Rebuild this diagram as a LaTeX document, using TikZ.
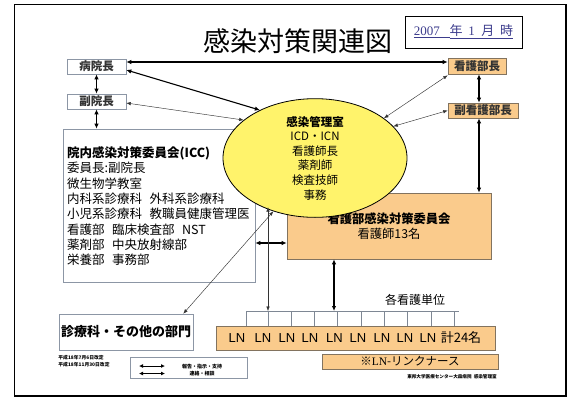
\documentclass[tikz,border=0pt]{standalone}
\usepackage{fontspec}
\setmainfont{Noto Sans CJK JP}
\newfontfamily\numfont{Liberation Serif}
\newfontfamily\lnfont{Liberation Sans}
\usetikzlibrary{arrows.meta,shapes.geometric}
\definecolor{orangefill}{RGB}{250,203,140}
\definecolor{yellowfill}{RGB}{255,243,107}
\definecolor{boxgray}{RGB}{140,150,165}
\definecolor{orangeline}{RGB}{130,115,95}
\definecolor{datecol}{RGB}{60,60,140}
\definecolor{txtgray}{RGB}{50,50,50}
\begin{document}
\begin{tikzpicture}[x=1pt,y=-1pt,
  whitebox/.style={draw=boxgray,line width=0.6pt,fill=white,inner sep=0pt},
  orbox/.style={draw=orangeline,line width=0.6pt,fill=orangefill,inner sep=0pt},
  thickarr/.style={line width=1.1pt,{Latex[length=5pt,width=4.5pt]}-{Latex[length=5pt,width=4.5pt]}},
  thinarr/.style={line width=0.45pt,draw=black!80,{Latex[length=4.5pt,width=3.5pt]}-{Latex[length=4.5pt,width=3.5pt]}},
  gridline/.style={draw=boxgray!90!black,line width=0.5pt}
]
\useasboundingbox (0,0) rectangle (585,400);
% frame
\draw[line width=0.8pt] (14,4) rectangle (566,396);
\draw[line width=1.6pt] (566,4) -- (566,396) -- (14,396);

% title
\node (title) at (298,41) {\fontsize{27}{27}\selectfont 感染対策関連図};
\node[draw=black,line width=0.8pt,minimum width=117,minimum height=32,inner sep=0pt] (date) at (463.5,32)
  {\color{datecol}\fontsize{13}{13}\selectfont\underline{\numfont 2007\ \ \ }\underline{年\ \ \numfont 1\ \ }\underline{月\ \ 時}};

% left column
\node[whitebox,minimum width=59,minimum height=15] (hosp) at (96.5,66.5) {\color{txtgray}\fontsize{11.5}{11.5}\selectfont\bfseries 病院長};
\node[whitebox,minimum width=59,minimum height=15] (vhosp) at (96.5,101.5) {\color{txtgray}\fontsize{11.5}{11.5}\selectfont\bfseries 副院長};
\node[whitebox,minimum width=192,minimum height=153] (icc) at (159,205.5) {};
\node[anchor=north west,inner sep=0pt,align=left,font=\fontsize{12.5}{15.3}\selectfont] (icctext) at (67,146.5)
  {{\bfseries 院内感染対策委員会(ICC)}\\
   委員長:副院長\\
   微生物学教室\\
   内科系診療科\hspace{0.6em}外科系診療科\\
   小児系診療科\hspace{0.6em}教職員健康管理医\\
   看護部\hspace{0.6em}臨床検査部\hspace{0.6em}NST\\
   薬剤部\hspace{0.6em}中央放射線部\\
   栄養部\hspace{0.6em}事務部};

% nursing committee (below ellipse)
\node[orbox,minimum width=204,minimum height=66,align=center,font=\fontsize{12.3}{14.5}\selectfont] (ncom) at (389,226)
  {{\bfseries 看護部感染対策委員会}\\看護師13名};

% ellipse
\node[ellipse,draw=black,line width=0.8pt,fill=yellowfill,minimum width=184,minimum height=100,inner sep=0pt,
  align=center,font=\fontsize{11.5}{14.6}\selectfont] (ell) at (315,158)
  {{\bfseries 感染管理室}\\ICD・ICN\\看護師長\\薬剤師\\検査技師\\事務};

% right column
\node[orbox,minimum width=58,minimum height=16] (nd) at (477,66) {\color{txtgray}\fontsize{11.5}{11.5}\selectfont\bfseries 看護部長};
\node[orbox,minimum width=70,minimum height=15] (vnd) at (483,110.5) {\color{txtgray}\fontsize{11.5}{11.5}\selectfont\bfseries 副看護部長};

% bottom
\node[whitebox,minimum width=134,minimum height=36] (dept) at (126,332) {\fontsize{13}{13}\selectfont\bfseries 診療科・その他の部門};
\node[orbox,minimum width=279,minimum height=24] (ln) at (355.5,338) {};
\foreach \i/\xx in {1/237,2/263,3/287,4/310,5/334.5,6/358,7/382,8/405,9/428}
  \node[inner sep=0pt,font=\lnfont\fontsize{13}{13}\selectfont] (lnt\i) at (\xx,338) {LN};
\node[inner sep=0pt,font=\fontsize{13}{13}\selectfont] (lnsum) at (461,338) {計24名};
\node[orbox,minimum width=176,minimum height=15] (lnn) at (410,361.5) {\fontsize{11.5}{11.5}\selectfont ※{\numfont LN}-リンクナース};
\node[inner sep=0pt,font=\fontsize{12}{12}\selectfont] (unit) at (415,300) {各看護単位};

% grid above LN
\foreach \i/\xx in {0/246,1/268,2/291,3/314,4/337,5/361,6/384,7/407,8/431,9/454}
  \coordinate (g\i) at (\xx,311);
\coordinate (gend) at (459,311);
\draw[gridline] (g0) -- (gend);
\foreach \i in {0,...,9} \draw[gridline] (g\i) -- (g\i |- ln.north);

% legend
\node[whitebox,minimum width=117,minimum height=21] (leg) at (188.5,367.5) {};
\coordinate (la1) at (139,366); \coordinate (lb1) at (165,366);
\coordinate (la2) at (139,373.5); \coordinate (lb2) at (165,373.5);
\draw[line width=0.8pt,{Latex[length=4pt,width=4pt]}-{Latex[length=4pt,width=4pt]}] (la1) -- (lb1);
\draw[line width=0.8pt,{Latex[length=4pt,width=4pt]}-{Latex[length=4pt,width=4pt]}] (la2) -- (lb2);
\node[inner sep=0pt,align=center,font=\fontsize{5}{7.5}\selectfont\bfseries] (legtext) at (202,370) {報告・指示・支持\\連絡・相談};

\node[inner sep=0pt,align=left,font=\fontsize{4.8}{7}\selectfont\bfseries] (rev) at (84,361.5) {平成18年7月6日改定\\平成18年11月30日改定};
\node[inner sep=0pt,font=\fontsize{4.6}{4.6}\selectfont\bfseries] (credit) at (452,377) {東邦大学医療センター大森病院\ \ 感染管理室};

% connectors
\draw[thickarr] ([yshift=4.5pt]hosp.east) -- ([yshift=4pt]nd.west);
\draw[thickarr] ([yshift=-3.5pt]hosp.east) -- (ell.139);
\draw[thinarr] ([yshift=-1.5pt]vhosp.east) -- (ell.152);
\draw[thinarr] ([yshift=-1pt]nd.south west) -- (ell.30);
\draw[thinarr] (vnd.west) -- (ell.22);
\draw[thickarr] (hosp.south) -- (vhosp.north);
\draw[thickarr] (vhosp.south) -- (vhosp.south |- icc.north);
\coordinate (rx) at (479,0);
\draw[thickarr] (nd.south -| rx) -- (vnd.north -| rx);
\draw[thickarr] (vnd.south -| rx) -- (ncom.north -| rx);
\coordinate (iccy) at (0,243);
\draw[thickarr] (icc.east |- iccy) -- (ncom.west |- iccy);
\draw[thinarr] ([xshift=-10pt]dept.north east) -- (ell.-128);
\draw[thinarr] (g1) -- (g1 |- ell.-137.5);
\coordinate (vx) at (334,0);
\draw[thickarr] (ncom.south -| vx) -- (g0 -| vx);
\end{tikzpicture}
\end{document}
